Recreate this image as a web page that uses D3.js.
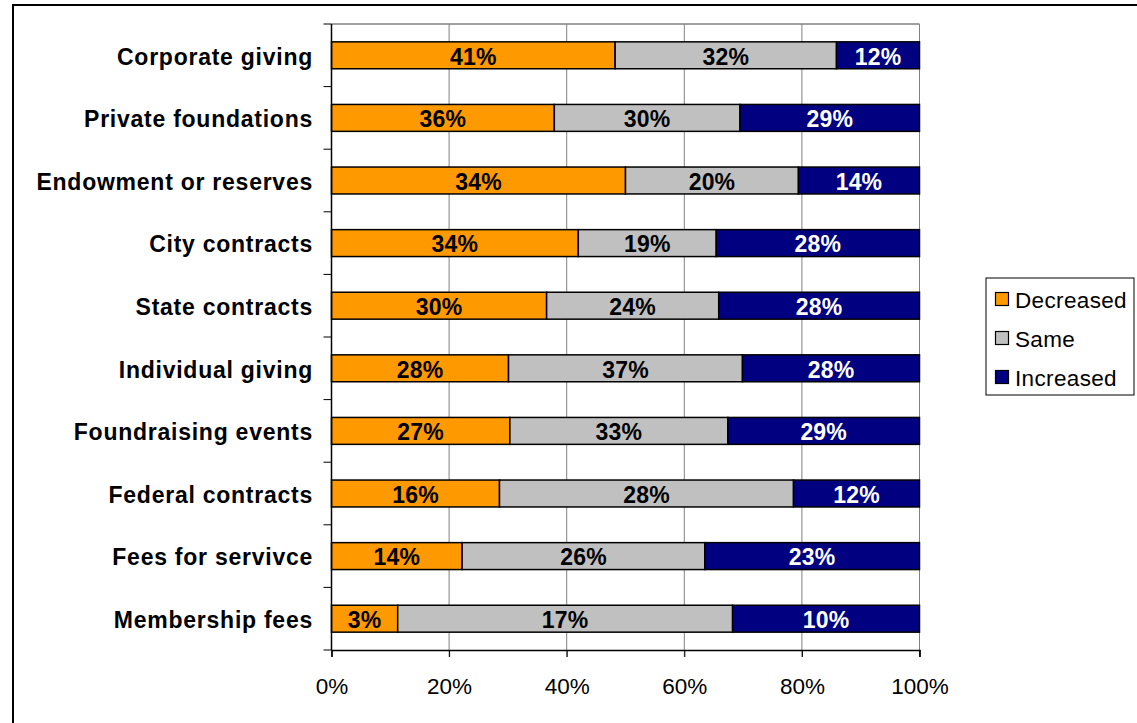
<!DOCTYPE html>
<html>
<head>
<meta charset="utf-8">
<script src="https://cdn.jsdelivr.net/npm/d3@7"></script>
<style>
  html, body { margin: 0; padding: 0; background: #fff; }
  svg { display: block; }
  text { font-family: "Liberation Sans", Arial, sans-serif; }
</style>
</head>
<body>
<svg id="chart" width="1137" height="723"></svg>
<script>
const categories = ["Corporate giving", "Private foundations", "Endowment or reserves", "City contracts",
  "State contracts", "Individual giving", "Foundraising events", "Federal contracts",
  "Fees for servivce", "Membership fees"];
const decreased = [41, 36, 34, 34, 30, 28, 27, 16, 14, 3.4];
const same      = [32, 30, 20, 19, 24, 37, 33, 28, 26, 17.2];
const increased = [12, 29, 14, 28, 28, 28, 29, 12, 23, 9.6];
const seriesNames = ["Decreased", "Same", "Increased"];
const seriesColors = ["#FF9900", "#C0C0C0", "#000080"];
const labelColors = ["#000", "#000", "#fff"];
const xTicks = [0, 0.2, 0.4, 0.6, 0.8, 1.0];

const svg = d3.select("#chart");
const pLeft = 331.5, pRight = 919.5, pTop = 24, pBottom = 650;

// outer frame
svg.append("rect").attr("x", 13).attr("y", 5).attr("width", 1140).attr("height", 740)
  .attr("fill", "none").attr("stroke", "#000").attr("stroke-width", 2);

const x = d3.scaleLinear().domain([0, 1]).range([pLeft, pRight]);
const y = d3.scaleBand().domain(categories).range([pTop, pBottom]).paddingInner(0.57).paddingOuter(0.285);

// gridlines
svg.append("g").selectAll("line").data(xTicks.slice(1)).join("line")
  .attr("x1", d => x(d)).attr("x2", d => x(d)).attr("y1", pTop).attr("y2", pBottom + 7)
  .attr("stroke", "#808080").attr("stroke-width", 1);
svg.append("line").attr("x1", pLeft).attr("x2", pRight).attr("y1", pTop).attr("y2", pTop)
  .attr("stroke", "#808080").attr("stroke-width", 1.5);

// stacked normalized data
const rows = categories.map((c, i) => {
  const vals = [decreased[i], same[i], increased[i]];
  const total = d3.sum(vals);
  let acc = 0;
  return vals.map((v, s) => {
    const seg = { cat: c, s, v, x0: acc / total, x1: (acc + v) / total };
    acc += v;
    return seg;
  });
});
const segs = rows.flat();

svg.append("g").selectAll("rect").data(segs).join("rect")
  .attr("x", d => x(d.x0)).attr("width", d => x(d.x1) - x(d.x0))
  .attr("y", d => y(d.cat)).attr("height", y.bandwidth())
  .attr("fill", d => seriesColors[d.s]).attr("stroke", "#000").attr("stroke-width", 1.5);

svg.append("g").selectAll("text").data(segs).join("text")
  .attr("x", d => (x(d.x0) + x(d.x1)) / 2)
  .attr("y", d => y(d.cat) + y.bandwidth() / 2 + 1)
  .attr("dy", "0.36em").attr("text-anchor", "middle")
  .attr("font-size", 23).attr("font-weight", "bold").attr("letter-spacing", 0.2)
  .attr("fill", d => labelColors[d.s])
  .text(d => Math.round(d.v) + "%");

// y axis
const yAxisG = svg.append("g").attr("transform", `translate(${pLeft},0)`);
yAxisG.append("line").attr("x1", 0).attr("x2", 0).attr("y1", pTop).attr("y2", pBottom).attr("stroke", "#000").attr("stroke-width", 1.5);
const boundaries = d3.range(categories.length + 1).map(i => pTop + i * y.step());
yAxisG.selectAll("line.tk").data(boundaries).join("line").attr("class", "tk")
  .attr("x1", -8).attr("x2", 0).attr("y1", d => d).attr("y2", d => d)
  .attr("stroke", "#000").attr("stroke-width", 1);
svg.append("g").selectAll("text").data(categories).join("text")
  .attr("x", 313).attr("y", d => y(d) + y.bandwidth() / 2 + 1)
  .attr("dy", "0.36em").attr("text-anchor", "end")
  .attr("font-size", 23).attr("font-weight", "bold").attr("letter-spacing", 0.75)
  .attr("fill", "#000").text(d => d);

// x axis
const xAxis = d3.axisBottom(x).tickValues(xTicks).tickFormat(d3.format(".0%")).tickSize(7).tickPadding(21);
const xg = svg.append("g").attr("transform", `translate(0,${pBottom})`).call(xAxis);
xg.select(".domain").attr("stroke", "#000").attr("stroke-width", 1.5);
xg.selectAll(".tick line").attr("stroke", "#000");
xg.selectAll(".tick text").attr("font-size", 22.5).attr("font-family", "Liberation Sans, Arial, sans-serif")
  .attr("fill", "#000");

// legend
const lg = svg.append("g");
lg.append("rect").attr("x", 986).attr("y", 278).attr("width", 148).attr("height", 117)
  .attr("fill", "#fff").attr("stroke", "#000").attr("stroke-width", 1);
const li = lg.selectAll("g.it").data(seriesNames).join("g").attr("class", "it")
  .attr("transform", (d, i) => `translate(995,${299 + i * 39})`);
li.append("rect").attr("x", 0.5).attr("y", -6.5).attr("width", 13).attr("height", 13)
  .attr("fill", (d, i) => seriesColors[i]).attr("stroke", "#000").attr("stroke-width", 1.2);
li.append("text").attr("x", 20).attr("y", 1).attr("dy", "0.36em")
  .attr("font-size", 22.5).attr("letter-spacing", 0.35).attr("fill", "#000").text(d => d);
</script>
</body>
</html>
